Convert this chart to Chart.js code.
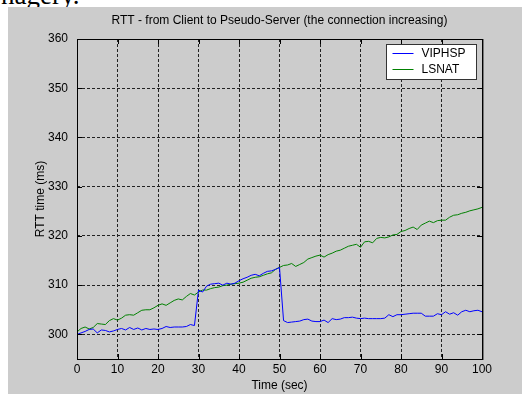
<!DOCTYPE html>
<html>
<head>
<meta charset="utf-8">
<script src="https://cdn.jsdelivr.net/npm/chart.js@4.4.1/dist/chart.umd.min.js"></script>
<style>
  html, body { margin: 0; padding: 0; background: #fff; width: 522px; height: 394px; overflow: hidden; }
  #cut { position: absolute; left: 1px; top: -18px; font: 27px/27px "Liberation Serif", serif; color: #000; }
  #fig { position: absolute; left: 8px; top: 7px; width: 514px; height: 387px; background: #cccccc; }
</style>
</head>
<body>
<div id="cut">nagery.</div>
<div id="fig"><canvas id="myChart" width="514" height="387"></canvas></div>
<script>
// time in seconds
const times = [0, 1, 2, 3, 4, 5, 6, 7, 8, 9, 10, 11, 12, 13, 14, 15, 16, 17, 18, 19, 20,
    21, 22, 23, 24, 25, 26, 27, 28, 29, 30, 31, 32, 33, 34, 35, 36, 37, 38, 39, 40,
    41, 42, 43, 44, 45, 46, 47, 48, 49, 50, 51, 52, 53, 54, 55, 56, 57, 58, 59, 60,
    61, 62, 63, 64, 65, 66, 67, 68, 69, 70, 71, 72, 73, 74, 75, 76, 77, 78, 79, 80,
    81, 82, 83, 84, 85, 86, 87, 88, 89, 90, 91, 92, 93, 94, 95, 96, 97, 98, 99, 100];

// RTT (ms)
const viphsp = [300.0, 300.3, 300.6, 301.0, 301.1, 300.3, 300.9, 300.8, 300.5, 300.7, 301.0,
    301.2, 300.9, 301.4, 301.0, 301.3, 300.9, 301.2, 301.0, 301.1, 301.0,
    301.2, 301.6, 301.4, 301.5, 301.5, 301.5, 301.6, 302.0, 301.8, 309.0,
    308.6, 309.8, 310.2, 310.3, 310.4, 310.0, 310.4, 310.2, 310.4, 310.9,
    311.3, 311.6, 312.0, 312.2, 311.9, 312.4, 312.8, 312.9, 313.2, 313.6,
    302.8, 302.4, 302.5, 302.6, 302.7, 303.0, 303.1, 302.7, 302.6, 302.6,
    302.9, 302.4, 303.2, 303.0, 303.1, 303.4, 303.4, 303.5, 303.3, 303.2,
    303.3, 303.2, 303.2, 303.2, 303.2, 303.3, 304.0, 303.6, 304.0, 304.0,
    304.1, 304.2, 304.3, 304.3, 304.3, 303.7, 303.7, 303.7, 304.2, 304.0,
    304.6, 304.1, 304.4, 303.9, 304.6, 304.9, 304.6, 304.8, 304.9, 304.6];

const lsnat = [300.5, 301.2, 301.5, 301.1, 301.4, 302.2, 302.1, 302.0, 302.8, 303.2, 302.9,
    303.3, 303.9, 304.0, 303.9, 304.4, 304.9, 305.0, 305.0, 305.4, 305.9,
    306.2, 305.9, 306.4, 306.9, 307.2, 307.0, 307.7, 308.3, 308.0, 308.6,
    309.0, 309.0, 309.3, 309.5, 309.6, 309.9, 310.0, 310.2, 310.3, 310.4,
    310.6, 311.0, 311.4, 311.6, 311.7, 312.0, 312.3, 312.5, 313.2, 313.6,
    314.0, 314.1, 314.4, 313.8, 314.2, 314.6, 315.3, 315.6, 315.9, 316.1,
    315.7, 316.2, 316.5, 316.9, 317.1, 317.5, 317.9, 318.1, 318.3, 317.7,
    318.8, 318.9, 318.6, 319.5, 319.7, 319.6, 319.8, 320.2, 320.3, 320.9,
    321.1, 321.5, 321.8, 321.3, 322.2, 322.6, 323.0, 322.7, 323.1, 323.2,
    323.2, 323.8, 324.2, 324.3, 324.6, 324.8, 325.1, 325.3, 325.5, 325.8];

const xTicks = [0, 10, 20, 30, 40, 50, 60, 70, 80, 90, 100];
const yTicks = [300, 310, 320, 330, 340, 350, 360];

const font = { family: "'Liberation Sans', Arial, sans-serif", size: 12 };

// MATLAB style box, inward ticks and legend inside the axes
const matlabAxes = {
    id: 'matlabAxes',
    afterDraw(chart) {
        const ctx = chart.ctx;
        const a = chart.chartArea;
        const xs = chart.scales.x, ys = chart.scales.y;
        ctx.save();
        ctx.setLineDash([]);
        ctx.strokeStyle = '#000';
        ctx.lineWidth = 1;
        ctx.beginPath();
        xTicks.forEach(v => {
            const px = Math.round(xs.getPixelForValue(v)) + 0.5;
            ctx.moveTo(px, a.bottom); ctx.lineTo(px, a.bottom - 5);
            ctx.moveTo(px, a.top); ctx.lineTo(px, a.top + 5);
        });
        yTicks.forEach(v => {
            const py = Math.round(ys.getPixelForValue(v)) + 0.5;
            ctx.moveTo(a.left, py); ctx.lineTo(a.left + 5, py);
            ctx.moveTo(a.right, py); ctx.lineTo(a.right - 5, py);
        });
        ctx.stroke();
        ctx.strokeRect(Math.round(a.left) + 0.5, Math.round(a.top) + 0.5,
            Math.round(a.right - a.left), Math.round(a.bottom - a.top));
        // right edge looks heavier in the original
        ctx.fillStyle = '#777';
        ctx.fillRect(Math.round(a.right) + 1, Math.round(a.top), 1, Math.round(a.bottom - a.top) + 1);

        // legend
        const bx = 378.5, by = 37.5, bw = 90, bh = 35;
        ctx.fillStyle = '#fff';
        ctx.fillRect(bx, by, bw, bh);
        ctx.strokeStyle = '#333';
        ctx.strokeRect(bx, by, bw, bh);
        ctx.font = "12px 'Liberation Sans', Arial, sans-serif";
        ctx.textBaseline = 'middle';
        chart.data.datasets.forEach((ds, i) => {
            const y = Math.round(by + 8.5 + i * 15.6) + 0.5;
            ctx.strokeStyle = ds.borderColor;
            ctx.beginPath();
            ctx.moveTo(bx + 6, y); ctx.lineTo(bx + 27, y);
            ctx.stroke();
            ctx.fillStyle = '#000';
            ctx.fillText(ds.label, bx + 35, y);
        });
        ctx.restore();
    }
};

new Chart(document.getElementById("myChart"), {
    type: 'line',
    data: {
        datasets: [{
            label: "VIPHSP",
            data: times.map((t, i) => ({ x: t, y: viphsp[i] })),
            borderColor: "#0000ff",
            borderWidth: 1,
            pointRadius: 0,
            fill: false
        }, {
            label: "LSNAT",
            data: times.map((t, i) => ({ x: t, y: lsnat[i] })),
            borderColor: "#008000",
            borderWidth: 1,
            pointRadius: 0,
            fill: false
        }]
    },
    options: {
        responsive: false,
        animation: false,
        events: [],
        layout: {
            autoPadding: false,
            padding: { top: 0, right: 40, bottom: 0, left: 0 }
        },
        plugins: {
            legend: { display: false },
            tooltip: { enabled: false },
            title: {
                display: true,
                fullSize: false,
                text: 'RTT - from Client to Pseudo-Server (the connection increasing)',
                color: '#000',
                font: { family: font.family, size: 12, weight: 'normal' },
                padding: { top: 6, bottom: 11.6 }
            }
        },
        scales: {
            x: {
                type: 'linear',
                min: 0,
                max: 100,
                afterBuildTicks: s => { s.ticks = xTicks.map(v => ({ value: v })); },
                afterFit: s => { s.height = 35; },
                ticks: { color: '#000', font: font, padding: 3, maxRotation: 0 },
                grid: { color: '#222', drawTicks: false, lineWidth: 1 },
                border: { display: false, dash: [3, 2] },
                title: {
                    display: true,
                    text: 'Time (sec)',
                    color: '#000',
                    font: font,
                    padding: { top: 0, bottom: 1 }
                }
            },
            y: {
                min: 295,
                max: 360,
                afterBuildTicks: s => { s.ticks = yTicks.map(v => ({ value: v })); },
                afterFit: s => { s.width = 69; },
                ticks: { color: '#000', font: font, padding: 9 },
                grid: { color: '#222', drawTicks: false, lineWidth: 1 },
                border: { display: false, dash: [3, 2] },
                title: {
                    display: true,
                    text: 'RTT time (ms)',
                    color: '#000',
                    font: font,
                    padding: { top: 25, bottom: 0 }
                }
            }
        }
    },
    plugins: [matlabAxes]
});
</script>
</body>
</html>
